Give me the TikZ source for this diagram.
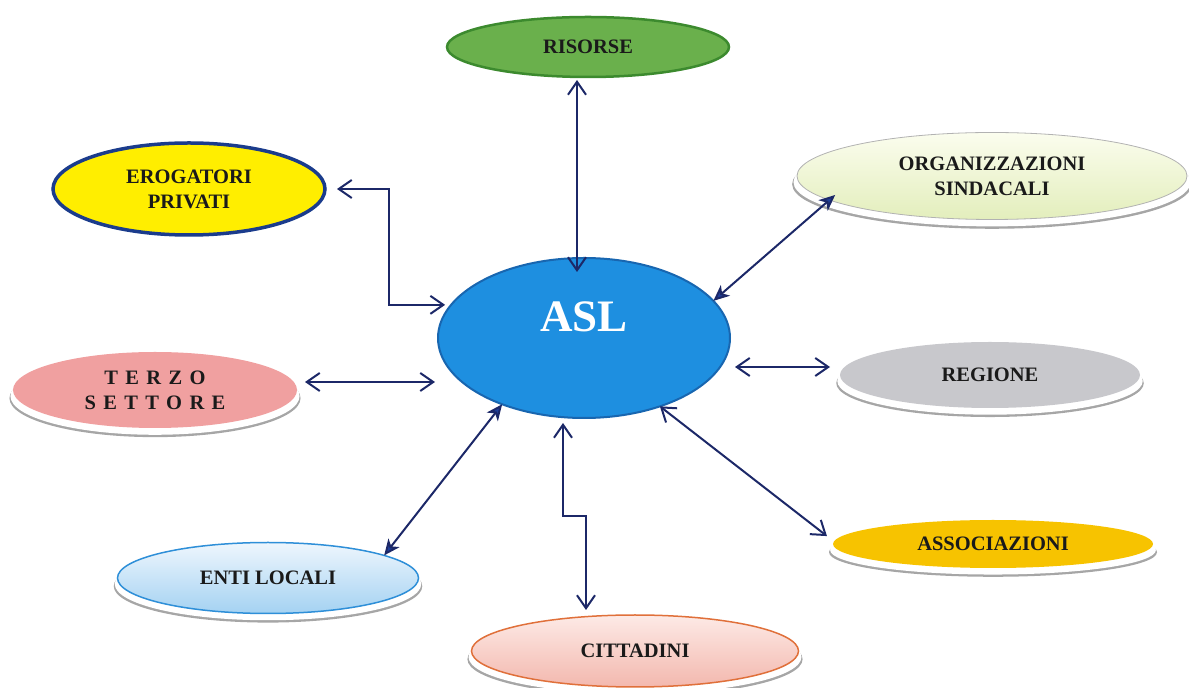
\documentclass[tikz,border=0pt]{standalone}
\usepackage{fontspec}
\setmainfont{Liberation Serif}
\newfontfamily\spacedfont[LetterSpace=36]{Liberation Serif}
\usetikzlibrary{arrows.meta,shapes.geometric,shadows}
\definecolor{navy}{HTML}{1C2868}
\definecolor{tipblue}{HTML}{1F3F9A}
\definecolor{txt}{HTML}{1A1A1A}
\definecolor{risfill}{HTML}{6AB04C}
\definecolor{risline}{HTML}{3C8A2E}
\definecolor{erofill}{HTML}{FFEE00}
\definecolor{eroline}{HTML}{1B3C8C}
\definecolor{orgtop}{HTML}{FBFDEE}
\definecolor{orgbot}{HTML}{E3EEBC}
\definecolor{aslfill}{HTML}{1E8FE0}
\definecolor{aslline}{HTML}{1866B0}
\definecolor{terfill}{HTML}{F0A0A0}
\definecolor{regfill}{HTML}{C8C8CC}
\definecolor{entitop}{HTML}{EEF6FD}
\definecolor{entibot}{HTML}{A4D2F2}
\definecolor{entiline}{HTML}{2E8FD8}
\definecolor{cittop}{HTML}{FDEAE6}
\definecolor{citbot}{HTML}{F3B8AE}
\definecolor{citline}{HTML}{E0703A}
\definecolor{assfill}{HTML}{F7C300}
\tikzset{
  bubble/.style={ellipse, inner sep=0pt, outer sep=0pt, align=center, text=txt,
    font=\bfseries\fontsize{20.5}{25}\selectfont},
  reflect/.style={general shadow={fill=gray!70, shadow yshift=-8pt, shadow scale=1.025},
    general shadow={fill=white, shadow yshift=-6pt, shadow scale=1.018}},
  conn/.style={draw=navy, line width=2pt},
  oarr/.style={conn, {Straight Barb[length=13pt,width=18pt,line width=2pt]}-{Straight Barb[length=13pt,width=18pt,line width=2pt]}},
  farr/.style={conn, {Stealth[length=16pt,width=14pt,inset=4.5pt,fill=tipblue]}-{Stealth[length=16pt,width=14pt,inset=4.5pt,fill=tipblue]}}
}
\begin{document}
\begin{tikzpicture}[x=1pt,y=1pt]
\useasboundingbox (0,0) rectangle (1189,688);
% nodes
\node[bubble, minimum width=282pt, minimum height=60pt, fill=risfill, draw=risline, line width=2.5pt] (ris) at (588,641) {RISORSE};
\node[bubble, minimum width=272pt, minimum height=92pt, fill=erofill, draw=eroline, line width=3.5pt] (ero) at (189,499) {EROGATORI\\PRIVATI};
\node[bubble, reflect, minimum width=390pt, minimum height=87pt, top color=orgtop, bottom color=orgbot, draw=gray!60, line width=0.8pt] (org) at (992,512) {ORGANIZZAZIONI\\SINDACALI};
\node[ellipse, inner sep=0pt, outer sep=0pt, minimum width=292pt, minimum height=160pt, fill=aslfill, draw=aslline, line width=2pt,
  label={[yshift=21pt, text=white, font=\bfseries\fontsize{45}{50}\selectfont]center:ASL}] (asl) at (584,350) {};
\node[bubble, reflect, minimum width=284pt, minimum height=76pt, fill=terfill] (ter) at (155,298) {\spacedfont TERZO\\\spacedfont SETTORE};
\node[bubble, reflect, minimum width=300pt, minimum height=66pt, fill=regfill] (reg) at (990,313) {REGIONE};
\node[bubble, reflect, minimum width=301pt, minimum height=71pt, top color=entitop, bottom color=entibot, draw=entiline, line width=1.5pt] (enti) at (268,110) {ENTI LOCALI};
\node[bubble, reflect, minimum width=327pt, minimum height=72pt, top color=cittop, bottom color=citbot, draw=citline, line width=1.5pt] (cit) at (635,37) {CITTADINI};
\node[bubble, reflect, minimum width=320pt, minimum height=48pt, fill=assfill] (ass) at (993,144) {ASSOCIAZIONI};
% bend points
\coordinate (k1) at (389,440);
\coordinate (k2) at (586,172);
% connectors
\draw[oarr] ([shift={(-11pt,-3pt)}]ris.south) -- ([shift={(-7pt,-14pt)}]asl.north);
\draw[oarr] ([xshift=12pt]ero.east) -| (k1) |- ([xshift=-6pt]asl.166);
\draw[farr] (asl.16) -- ([shift={(14pt,2pt)}]org.187);
\draw[oarr] ([shift={(8pt,8pt)}]ter.east) -- ([shift={(-3pt,-44pt)}]asl.west);
\draw[oarr] ([shift={(5pt,-29pt)}]asl.east) -- ([shift={(-10pt,8pt)}]reg.west);
\draw[farr] (asl.219) -- (enti.11);
\draw[oarr] ([shift={(-21pt,-5pt)}]asl.south) |- (k2) -- ([shift={(-49pt,5pt)}]cit.north);
\draw[oarr] (asl.-42) -- ([xshift=-15pt]ass.177);
\end{tikzpicture}
\end{document}
